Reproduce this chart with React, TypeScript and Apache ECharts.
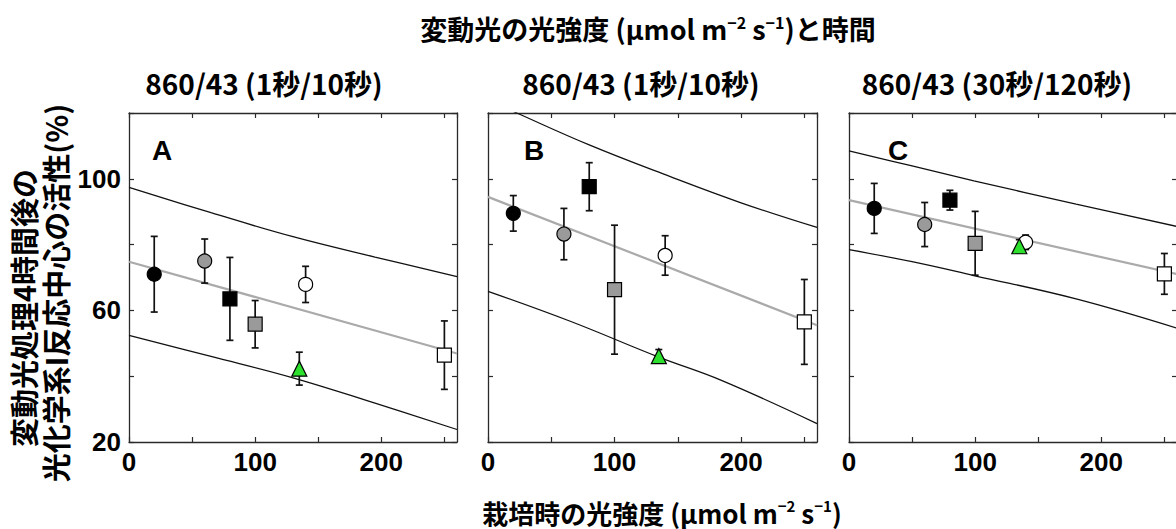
import React, { useEffect, useRef } from 'react';
import * as echarts from 'echarts';

// ---- data ----
const growthLight = [20, 60, 80, 100, 140, 135, 250];
const markerKinds = ['blackCircle', 'grayCircle', 'blackSquare', 'graySquare', 'whiteCircle', 'greenTriangle', 'whiteSquare'];

const panelLetters = ['A', 'B', 'C'];
const panelTitles = ['860/43 (1秒/10秒)', '860/43 (1秒/10秒)', '860/43 (30秒/120秒)'];

const meanA = [71, 75, 63.5, 55.8, 67.9, 42.3, 46.4];
const errA = [11.5, 6.7, 12.6, 7.2, 5.5, 5, 10.4];
const meanB = [89.5, 83.2, 97.6, 66.3, 76.7, 46.1, 56.5];
const errB = [5.4, 7.8, 7.3, 19.6, 6, 2, 12.9];
const meanC = [91, 86.1, 93.5, 80.4, 80.7, 79.5, 71.1];
const errC = [7.6, 6.7, 3, 9.7, 2.2, 2, 6.2];

const fitA = [[0, 74.8], [260, 46.9]];
const fitB = [[0, 94.5], [260, 55.5]];
const fitC = [[0, 93.5], [260, 71]];

const upperA = [[0, 97.4], [65, 89.7], [130, 82.4], [195, 76.2], [260, 70.3]];
const lowerA = [[0, 52.4], [65, 46], [130, 39.5], [195, 31.8], [260, 23.8]];
const upperB = [[0, 124], [22.8, 120], [80, 110.3], [139, 101.4], [200, 92.7], [260, 85.2]];
const lowerB = [[0, 65.8], [65, 56.7], [135, 45.8], [184, 38.8], [260, 25.6]];
const upperC = [[0, 108.5], [50, 103.9], [99, 99.4], [180, 92.3], [260, 85.5]];
const lowerC = [[0, 78.5], [50, 74.8], [99, 70.6], [180, 63.5], [260, 54.6]];

const xTickLabels = [0, 100, 200];
const yTickLabels = [20, 60, 100];

const means = [meanA, meanB, meanC];
const errs = [errA, errB, errC];
const fits = [fitA, fitB, fitC];
const uppers = [upperA, upperB, upperC];
const lowers = [lowerA, lowerB, lowerC];

// ---- styles ----
const markerStyle: Record<string, any> = {
  blackCircle: { symbol: 'circle', color: '#000000', size: 14 },
  grayCircle: { symbol: 'circle', color: '#9a9a9a', size: 14 },
  blackSquare: { symbol: 'rect', color: '#000000', size: 14 },
  graySquare: { symbol: 'rect', color: '#9a9a9a', size: 14 },
  whiteCircle: { symbol: 'circle', color: '#ffffff', size: 14 },
  greenTriangle: { symbol: 'triangle', color: '#2ee02e', size: 15 },
  whiteSquare: { symbol: 'rect', color: '#ffffff', size: 14 },
};

const grids = [
  { left: 129, top: 113, width: 328, height: 329 },
  { left: 488, top: 113, width: 329, height: 329 },
  { left: 849, top: 113, width: 328, height: 329 },
];
const letterPos = [[162, 150], [534, 150], [898, 150]];
const subtitleX = [264, 641, 997];

const CJK = '"Noto Sans CJK JP", "Noto Sans", sans-serif';
const NUM = '"Liberation Sans", Arial, sans-serif';
const frameColor = '#2a2a2a';

function buildOption() {
  const xAxis: any[] = [];
  const yAxis: any[] = [];
  const series: any[] = [];
  const axisLine = { show: true, onZero: false, lineStyle: { color: frameColor, width: 1.3 } };
  const axisTick = { show: true, inside: true, length: 5, lineStyle: { color: frameColor, width: 1.2 } };

  grids.forEach((g, i) => {
    xAxis.push({
      gridIndex: i, type: 'value', position: 'bottom', min: 0, max: 260, interval: 50,
      axisLine, axisTick, splitLine: { show: false },
      axisLabel: {
        show: true, margin: 7, color: '#000', fontFamily: NUM, fontWeight: 'bold', fontSize: 26,
        showMaxLabel: false,
        formatter: (v: number) => (xTickLabels.includes(v) ? String(v) : ''),
      },
    });
    xAxis.push({
      gridIndex: i, type: 'value', position: 'top', min: 0, max: 260, interval: 50,
      axisLine, axisTick, splitLine: { show: false }, axisLabel: { show: false },
    });
    yAxis.push({
      gridIndex: i, type: 'value', position: 'left', min: 20, max: 120, interval: 20,
      axisLine, axisTick, splitLine: { show: false },
      axisLabel: {
        show: i === 0, margin: 8, color: '#000', fontFamily: NUM, fontWeight: 'bold', fontSize: 26,
        formatter: (v: number) => (yTickLabels.includes(v) ? String(v) : ''),
      },
    });
    yAxis.push({
      gridIndex: i, type: 'value', position: 'right', min: 20, max: 120, interval: 20,
      axisLine, axisTick, splitLine: { show: false }, axisLabel: { show: false },
    });

    const xi = i * 2;
    const yi = i * 2;
    [uppers[i], lowers[i]].forEach((band) => {
      series.push({
        type: 'line', xAxisIndex: xi, yAxisIndex: yi, data: band, symbol: 'none', clip: true, smooth: 0.4,
        lineStyle: { color: '#111', width: 1.3 }, z: 1, silent: true,
      });
    });
    series.push({
      type: 'line', xAxisIndex: xi, yAxisIndex: yi, data: fits[i], symbol: 'none', clip: true,
      lineStyle: { color: '#aaaaaa', width: 2.2 }, z: 2, silent: true,
    });
    series.push({
      type: 'custom', xAxisIndex: xi, yAxisIndex: yi, z: 3,
      encode: { x: 0, y: [1, 2] },
      data: growthLight.map((x, k) => [x, means[i][k] - errs[i][k], means[i][k] + errs[i][k]]),
      renderItem: (params: any, api: any) => {
        const x = api.value(0);
        const top = api.coord([x, api.value(2)]);
        const bot = api.coord([x, api.value(1)]);
        const w = 3.5;
        const st = { stroke: '#111', lineWidth: 1.7 };
        return {
          type: 'group',
          children: [
            { type: 'line', shape: { x1: top[0], y1: top[1], x2: bot[0], y2: bot[1] }, style: st },
            { type: 'line', shape: { x1: top[0] - w, y1: top[1], x2: top[0] + w, y2: top[1] }, style: st },
            { type: 'line', shape: { x1: bot[0] - w, y1: bot[1], x2: bot[0] + w, y2: bot[1] }, style: st },
          ],
        };
      },
    });
    series.push({
      type: 'scatter', xAxisIndex: xi, yAxisIndex: yi, z: 4,
      data: growthLight.map((x, k) => {
        const m = markerStyle[markerKinds[k]];
        return {
          value: [x, means[i][k]],
          symbol: m.symbol,
          symbolSize: m.size,
          itemStyle: { color: m.color, borderColor: '#000', borderWidth: 1.2, opacity: 1 },
        };
      }),
    });
  });

  const supRich = (size: number) => ({
    t: { fontFamily: CJK, fontWeight: 'bold', fontSize: size, fill: '#000', lineHeight: size + 2 },
    s: { fontFamily: CJK, fontWeight: 'bold', fontSize: Math.round(size * 0.58), fill: '#000', verticalAlign: 'top', padding: [0, 0, Math.round(size * 0.45), 0] },
  });

  const graphic: any[] = [
    {
      type: 'text', x: 648, y: 28,
      style: {
        text: '{t|変動光の光強度 (μmol m}{s|−2}{t| s}{s|−1}{t|)と時間}',
        rich: supRich(27), align: 'center', verticalAlign: 'middle',
      },
    },
    {
      type: 'text', x: 662, y: 512,
      style: {
        text: '{t|栽培時の光強度 (μmol m}{s|−2}{t| s}{s|−1}{t|)}',
        rich: supRich(26), align: 'center', verticalAlign: 'middle',
      },
    },
    {
      type: 'text', x: 23, y: 308, rotation: Math.PI / 2,
      style: {
        text: '変動光処理4時間後の', fontFamily: CJK, fontWeight: 'bold', fontSize: 29, fill: '#000',
        align: 'center', verticalAlign: 'middle',
      },
    },
    {
      type: 'text', x: 55, y: 293, rotation: Math.PI / 2,
      style: {
        text: '光化学系I反応中心の活性(%)', fontFamily: CJK, fontWeight: 'bold', fontSize: 29, fill: '#000',
        align: 'center', verticalAlign: 'middle',
      },
    },
  ];
  panelTitles.forEach((t, i) => {
    graphic.push({
      type: 'text', x: subtitleX[i], y: 83,
      style: { text: t, fontFamily: CJK, fontWeight: 'bold', fontSize: 28, fill: '#000', align: 'center', verticalAlign: 'middle' },
    });
    graphic.push({
      type: 'text', x: letterPos[i][0], y: letterPos[i][1],
      style: { text: panelLetters[i], fontFamily: NUM, fontWeight: 'bold', fontSize: 28, fill: '#000', align: 'center', verticalAlign: 'middle' },
    });
  });

  return {
    animation: false,
    backgroundColor: '#ffffff',
    grid: grids.map((g) => ({ ...g, containLabel: false })),
    xAxis,
    yAxis,
    series,
    graphic,
  };
}

export default function App() {
  const ref = useRef<HTMLDivElement>(null);
  useEffect(() => {
    if (!ref.current) return;
    const chart = echarts.init(ref.current, undefined, { renderer: 'svg' });
    chart.setOption(buildOption() as any);
    return () => chart.dispose();
  }, []);
  return (
    <div style={{ position: 'fixed', left: 0, top: 0, width: 1176, height: 529, overflow: 'hidden', background: '#fff' }}>
      <div ref={ref} style={{ width: 1190, height: 529 }} />
    </div>
  );
}
